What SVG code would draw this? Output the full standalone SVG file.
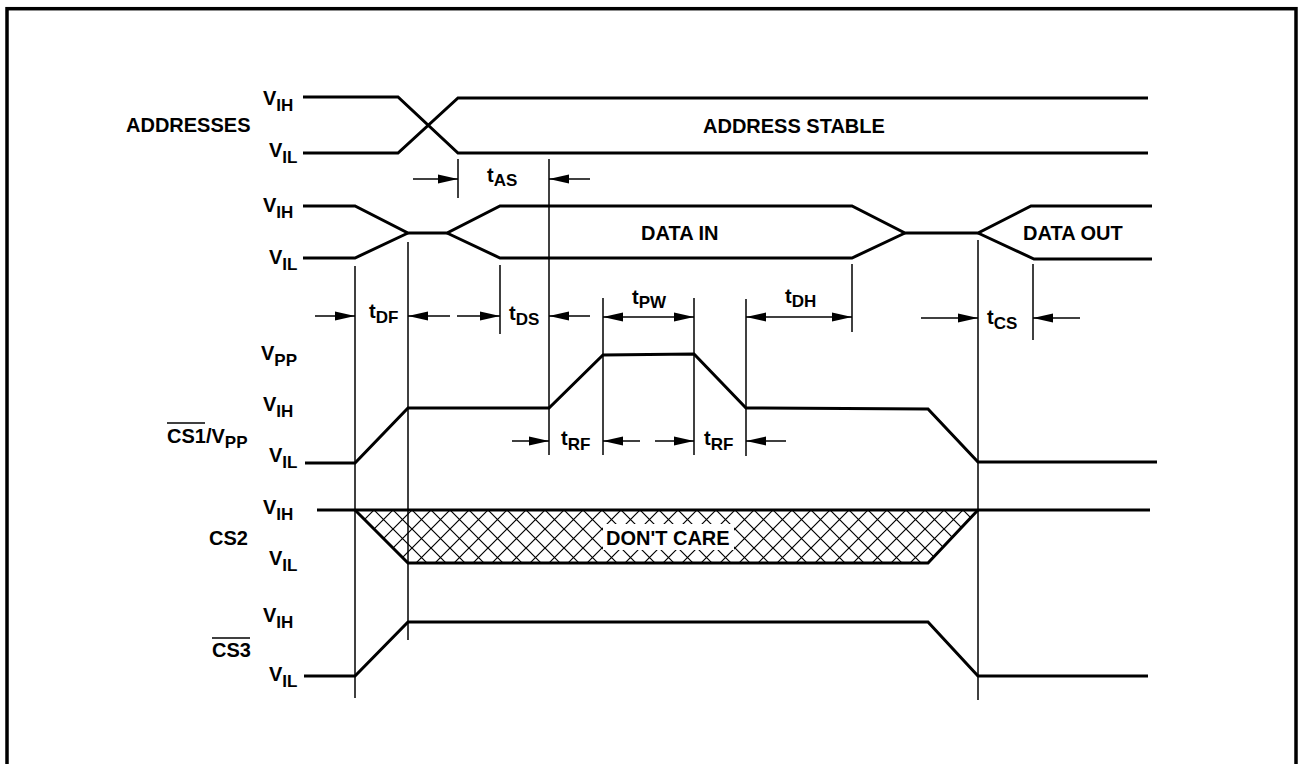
<svg xmlns="http://www.w3.org/2000/svg" width="1298" height="764" viewBox="0 0 1298 764">
<style>
text{font-family:"Liberation Sans",Arial,Helvetica,sans-serif;font-weight:bold;font-size:20px;fill:#000}
.sub{font-size:17px}
.sig{fill:none;stroke:#000;stroke-width:3;stroke-linejoin:miter}
.thin{fill:none;stroke:#000;stroke-width:1.5}
.arr{fill:none;stroke:#000;stroke-width:1.5;marker-end:url(#ah)}
.dbl{fill:none;stroke:#000;stroke-width:1.5;marker-end:url(#ah);marker-start:url(#ah)}
</style>
<defs>
<marker id="ah" markerUnits="userSpaceOnUse" markerWidth="20" markerHeight="10" refX="20" refY="5" orient="auto-start-reverse">
<path d="M0,0.5 L20,5 L0,9.5 Z" fill="#000"/>
</marker>
<pattern id="hatch" patternUnits="userSpaceOnUse" width="19" height="19" x="355" y="510">
<path d="M-1,-1 L20,20 M20,-1 L-1,20" stroke="#000" stroke-width="1.2" fill="none"/>
</pattern>
</defs>
<rect x="0" y="0" width="1298" height="764" fill="#fff"/>
<rect x="7" y="8.7" width="1289" height="800" fill="none" stroke="#000" stroke-width="3.5"/>

<g id="addresses">
<text x="126" y="132">ADDRESSES</text>
<text x="263" y="105">V<tspan class="sub" dy="6">IH</tspan></text>
<text x="269" y="157">V<tspan class="sub" dy="6">IL</tspan></text>
<path class="sig" d="M303,97 L398,97 L458,153 L1148,153"/>
<path class="sig" d="M303,153 L398,153 L458,98 L1148,98"/>
<text x="703" y="133">ADDRESS STABLE</text>
</g>

<g id="data">
<text x="263" y="212">V<tspan class="sub" dy="6">IH</tspan></text>
<text x="269" y="264">V<tspan class="sub" dy="6">IL</tspan></text>
<path class="sig" d="M303,206 L355,206 L408,233 L447,233 L500,206 L852,206 L905,233 L978,233 L1031,206 L1152,206"/>
<path class="sig" d="M303,258 L355,258 L408,233 M447,233 L500,258 L852,258 L905,233 M978,233 L1034,259 L1152,259"/>
<text x="641" y="240">DATA IN</text>
<text x="1023" y="240">DATA OUT</text>
</g>

<g id="cs1-vpp">
<text x="167" y="443">CS1/V<tspan class="sub" dy="5">PP</tspan></text>
<line x1="167" y1="423" x2="205" y2="423" stroke="#000" stroke-width="1.5"/>
<text x="261" y="360">V<tspan class="sub" dy="6">PP</tspan></text>
<text x="263" y="411">V<tspan class="sub" dy="6">IH</tspan></text>
<text x="269" y="462">V<tspan class="sub" dy="6">IL</tspan></text>
<path class="sig" d="M305,463 L355,463 L408,408 L549,408 L603,355 L694,354 L746,408 L928,409 L978,462 L1157,462"/>
</g>

<g id="cs2">
<text x="209" y="545">CS2</text>
<text x="263" y="514">V<tspan class="sub" dy="6">IH</tspan></text>
<text x="269" y="565">V<tspan class="sub" dy="6">IL</tspan></text>
<polygon points="355,510 978,510 928,563 408,563" fill="url(#hatch)" stroke="none"/>
<rect x="603" y="524" width="131" height="26" fill="#fff"/>
<path class="sig" d="M317,510 L1150,510"/>
<path class="sig" d="M355,510 L408,563 L928,563 L978,510"/>
<text x="606" y="545">DON'T CARE</text>
</g>

<g id="cs3">
<text x="212" y="657">CS3</text>
<line x1="212" y1="638" x2="250" y2="638" stroke="#000" stroke-width="1.5"/>
<text x="263" y="622">V<tspan class="sub" dy="6">IH</tspan></text>
<text x="269" y="681">V<tspan class="sub" dy="6">IL</tspan></text>
<path class="sig" d="M304,676 L355,676 L408,622 L928,622 L978,676 L1148,676"/>
</g>

<g id="connectors">
<line class="thin" x1="355" y1="266" x2="355" y2="698"/>
<line class="thin" x1="408" y1="242" x2="408" y2="640"/>
<line class="thin" x1="458" y1="159" x2="458" y2="198"/>
<line class="thin" x1="500" y1="265" x2="500" y2="334"/>
<line class="thin" x1="549" y1="159" x2="549" y2="455"/>
<line class="thin" x1="603" y1="298" x2="603" y2="455"/>
<line class="thin" x1="694" y1="298" x2="694" y2="455"/>
<line class="thin" x1="746" y1="299" x2="746" y2="456"/>
<line class="thin" x1="852" y1="264" x2="852" y2="332"/>
<line class="thin" x1="978" y1="240" x2="978" y2="700"/>
<line class="thin" x1="1033" y1="264" x2="1033" y2="340"/>

<line class="arr" x1="413" y1="179" x2="458" y2="179"/>
<line class="arr" x1="590" y1="179" x2="549" y2="179"/>

<line class="arr" x1="315" y1="316" x2="355" y2="316"/>
<line class="arr" x1="450" y1="316" x2="408" y2="316"/>
<line class="arr" x1="457" y1="316" x2="500" y2="316"/>
<line class="arr" x1="590" y1="316" x2="549" y2="316"/>
<line class="dbl" x1="603" y1="317" x2="694" y2="317"/>
<line class="dbl" x1="746" y1="317" x2="852" y2="317"/>
<line class="arr" x1="921" y1="318" x2="978" y2="318"/>
<line class="arr" x1="1080" y1="318" x2="1033" y2="318"/>

<line class="arr" x1="512" y1="441" x2="549" y2="441"/>
<line class="arr" x1="640" y1="441" x2="603" y2="441"/>
<line class="arr" x1="655" y1="441" x2="694" y2="441"/>
<line class="arr" x1="786" y1="441" x2="746" y2="441"/>

<text x="487" y="182">t<tspan class="sub" dy="4">AS</tspan></text>
<text x="369" y="318">t<tspan class="sub" dy="5">DF</tspan></text>
<text x="509" y="320">t<tspan class="sub" dy="5">DS</tspan></text>
<text x="632" y="304">t<tspan class="sub" dy="4">PW</tspan></text>
<text x="785" y="303">t<tspan class="sub" dy="4">DH</tspan></text>
<text x="987" y="324">t<tspan class="sub" dy="5">CS</tspan></text>
<text x="561" y="445">t<tspan class="sub" dy="5">RF</tspan></text>
<text x="704" y="445">t<tspan class="sub" dy="5">RF</tspan></text>
</g>
</svg>
